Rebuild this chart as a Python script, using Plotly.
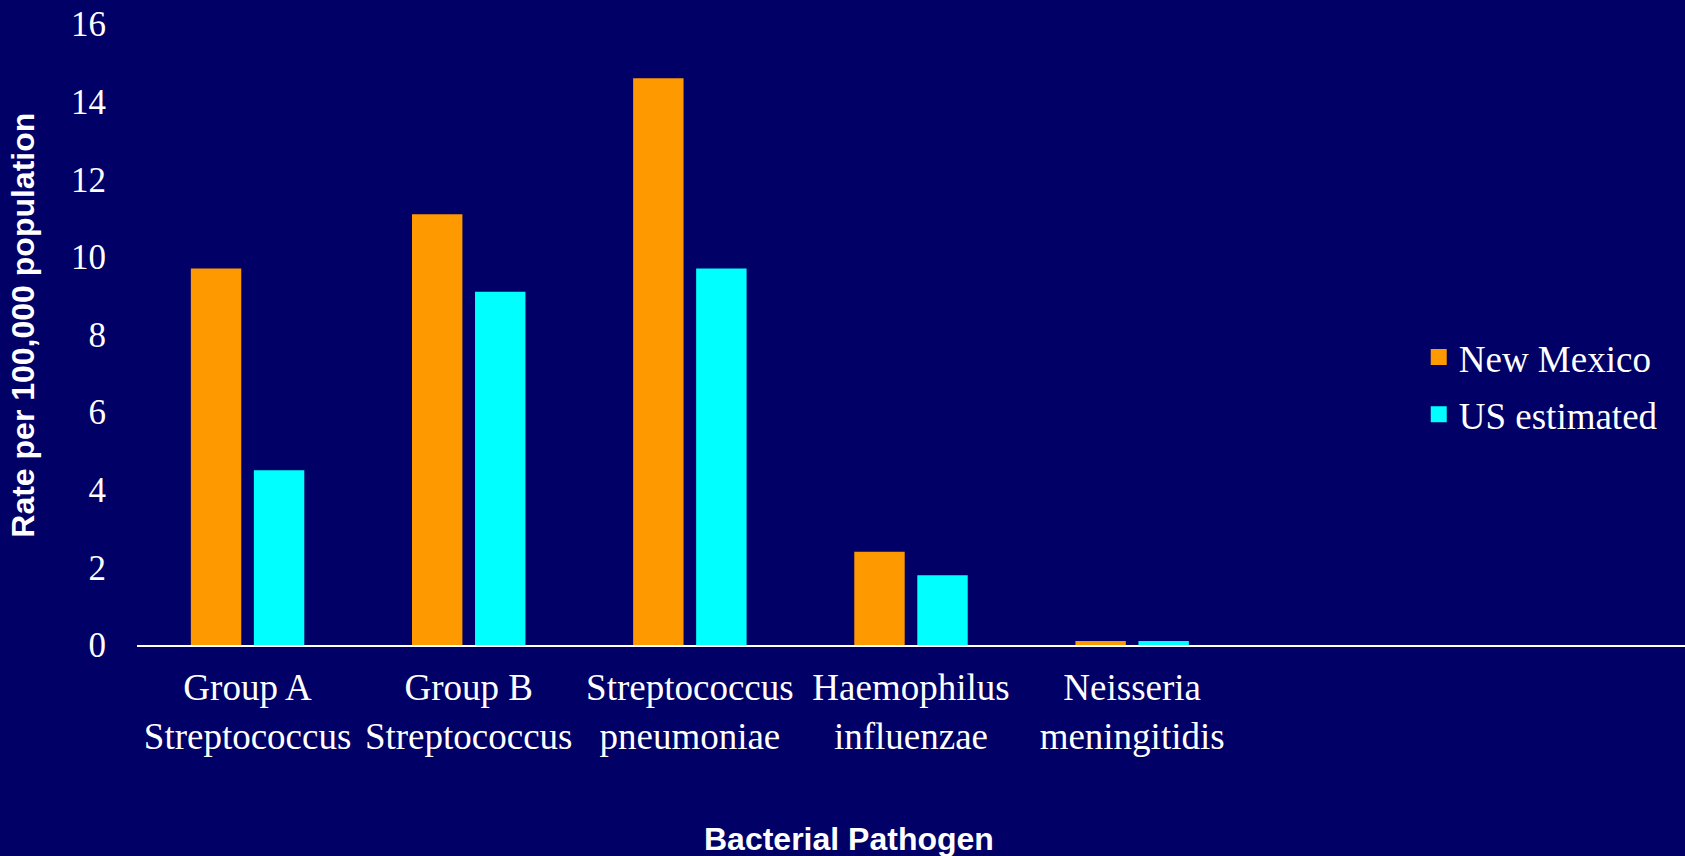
import plotly.graph_objects as go

# categories and rates per 100,000 population
pathogens = [
    "Group A<br>Streptococcus",
    "Group B<br>Streptococcus",
    "Streptococcus<br>pneumoniae",
    "Haemophilus<br>influenzae",
    "Neisseria<br>meningitidis",
]
new_mexico = [9.7, 11.1, 14.6, 2.4, 0.1]
us_estimated = [4.5, 9.1, 9.7, 1.8, 0.1]
y_ticks = [0, 2, 4, 6, 8, 10, 12, 14, 16]
series_names = ["New Mexico", "US estimated"]
series_colors = ["#FF9900", "#00FFFF"]

BG = "#000066"
SERIF = "Liberation Serif, Times New Roman, serif"
SANS = "Liberation Sans, Arial, sans-serif"

fig = go.Figure()
for name, vals, col in zip(series_names, [new_mexico, us_estimated], series_colors):
    fig.add_trace(go.Bar(x=pathogens, y=vals, name=name, legendgroup=name,
                         marker=dict(color=col, line=dict(width=0)),
                         showlegend=False))
    # legend proxy so the key square is bigger than the default bar icon
    fig.add_trace(go.Scatter(x=[None], y=[None], mode="markers", name=name,
                             legendgroup=name,
                             marker=dict(symbol="square", size=16, color=col)))

fig.update_layout(
    width=1685, height=856,
    paper_bgcolor=BG, plot_bgcolor=BG,
    margin=dict(l=137, r=0, t=24, b=211),
    barmode="group", bargap=0.43, bargroupgap=0.2,
    font=dict(family=SERIF, size=35, color="white"),
    showlegend=True,
    legend=dict(x=0.828, xanchor="left", y=0.417, yanchor="middle",
                bgcolor="rgba(0,0,0,0)", font=dict(family=SERIF, size=37, color="white"),
                tracegroupgap=6, itemsizing="trace"),
)

fig.update_xaxes(
    range=[-0.5, 6.5], showgrid=False, zeroline=False,
    showline=True, linecolor="white", linewidth=2,
    ticks="outside", ticklen=9, tickcolor=BG,
    tickfont=dict(family=SERIF, size=37, color="white"),
)
fig.update_yaxes(
    range=[0, 16], tickvals=y_ticks, showgrid=False, zeroline=False,
    showline=False, ticks="", ticklabelstandoff=30,
    tickfont=dict(family=SERIF, size=35, color="white"),
)

fig.add_annotation(text="<b>Rate per 100,000 population</b>", textangle=-90,
                   xref="paper", yref="paper", x=-0.0733, y=0.515,
                   xanchor="center", yanchor="middle",
                   showarrow=False, font=dict(family=SANS, size=32, color="white"))
fig.add_annotation(text="<b>Bacterial Pathogen</b>",
                   xref="paper", yref="paper", x=0.46, y=-0.312,
                   xanchor="center", yanchor="middle",
                   showarrow=False, font=dict(family=SANS, size=32, color="white"))

fig.write_html("out.html", config={"displayModeBar": False},
               post_script="document.body.style.margin='0';")
